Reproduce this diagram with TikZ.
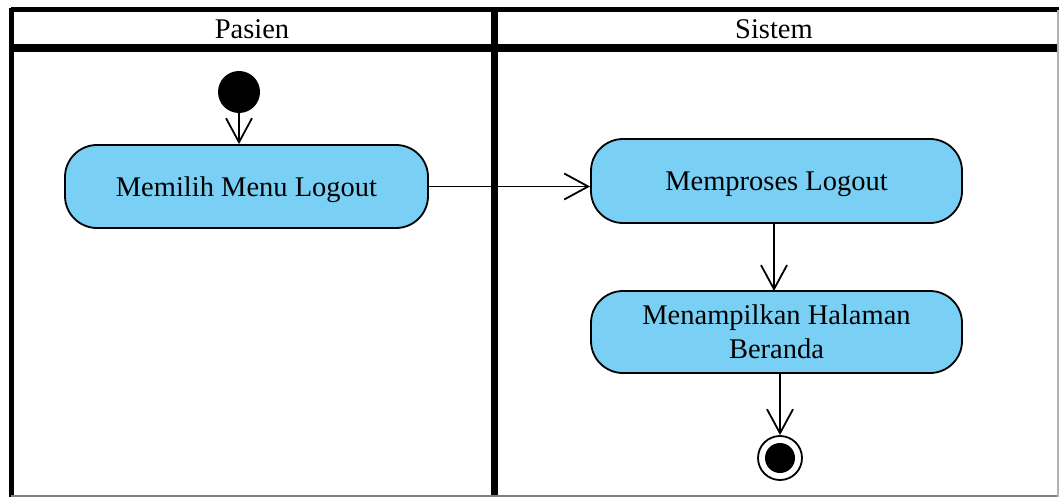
\documentclass[tikz,border=0pt]{standalone}
\usepackage{fontspec}
\setmainfont{Liberation Serif}
\usetikzlibrary{arrows.meta}
\definecolor{actblue}{HTML}{7ACFF4}
\tikzset{
  x=1pt, y=-1pt,
  lane/.style={line width=#1, draw=black},
  activity/.style={draw=black, line width=1.8pt, fill=actblue, rounded corners=32pt,
    minimum width=363pt, minimum height=83pt, align=center, inner sep=0pt,
    text depth=0pt, font=\fontsize{28.5}{34}\selectfont},
  hdr/.style={font=\fontsize{28.5}{34}\selectfont, inner sep=0pt},
  flow/.style={line width=1.8pt, -{Straight Barb[length=24pt,width=26pt,line width=1.8pt]}},
}
\begin{document}
\begin{tikzpicture}
\useasboundingbox (0,0) rectangle (1059,497);
% frame
\draw[lane=5pt] (11,10) -- (1059,10);
\draw[lane=5pt] (11,8) -- (11,497);
\draw[lane=8pt] (11,48) -- (1059,48);
\draw[lane=7pt] (494,8) -- (494,497);
\draw[line width=2pt, draw=gray] (11,496) -- (1059,496);
\draw[line width=1.5pt, draw=gray!60] (1058,10) -- (1058,497);
% headers
\node[hdr] (hp) at (252,29) {Pasien};
\node[hdr] (hs) at (774,29) {Sistem};
% nodes
\node[circle, fill=black, minimum size=42pt, inner sep=0pt] (start) at (239,92) {};
\node[activity, minimum width=363pt] (a1) at (246.5,186.5) {Memilih Menu Logout};
\node[activity, minimum width=371pt, minimum height=84pt] (a2) at (776.5,181) {Memproses Logout};
\node[activity, minimum width=371pt, minimum height=82pt] (a3) at (776.5,332) {Menampilkan Halaman\\Beranda};
\node[circle, draw=black, line width=1.8pt, minimum size=44pt, inner sep=0pt] (endo) at (780,458) {};
\node[circle, fill=black, minimum size=30pt, inner sep=0pt] (endi) at (780,458) {};
% flows
\draw[flow] (start) -- (a1.north -| start);
\draw[flow] (a1.east) -- (a1.east -| a2.west);
\draw[flow] (774,223) -- (774,291);
\draw[flow] (780,373) -- (endo.north);
\end{tikzpicture}
\end{document}
